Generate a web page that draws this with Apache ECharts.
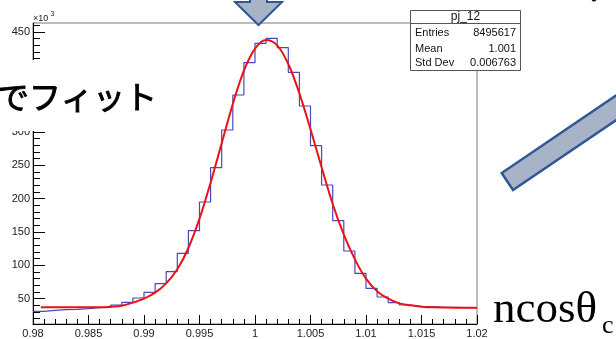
<!DOCTYPE html>
<html>
<head>
<meta charset="utf-8">
<script src="https://cdn.jsdelivr.net/npm/echarts@6/dist/echarts.min.js"></script>
<style>
  html, body { margin: 0; padding: 0; background: #fff; }
  #chart { width: 616px; height: 339px; }
</style>
</head>
<body>
<div id="chart"></div>
<script>
// Histogram pj_12: 40 bins of width 0.001 from 0.98, counts in units of 10^3
const binLow = 0.98;
const binWidth = 0.001;
const counts = [
  31, 32.5, 33.5, 34, 35, 36.5, 37, 40.5, 44.5, 51,
  59.5, 72.5, 90.5, 118, 152, 195, 246.5, 303, 355.5, 404,
  433, 440.5, 426.5, 389.5, 339, 279.5, 220.5, 167, 121.5, 88,
  65.5, 52.5, 44, 40.5, 38.5, 38, 37, 37, 36.5, 36.5
];

// Fitted curve (Gaussian on a flat background), sampled values
const fitX = [0.9807, 0.982, 0.984, 0.986, 0.987, 0.988, 0.989, 0.990, 0.991, 0.992,
              0.993, 0.994, 0.995, 0.996, 0.997, 0.998, 0.999, 1.000, 1.001, 1.002,
              1.003, 1.004, 1.005, 1.006, 1.007, 1.008, 1.009, 1.010, 1.011, 1.012,
              1.013, 1.014, 1.015, 1.016, 1.018, 1.020];
const fitY = [37, 37, 37, 37, 38, 39.5, 44, 50, 59, 73,
              94, 126, 170, 224, 283, 342, 392, 425, 438, 430,
              402, 358, 304, 247, 192, 146, 109, 80, 61, 50,
              43, 40, 38, 37, 36.5, 36.5];

// Axis ticks
const yMajor = [50, 100, 150, 200, 250, 300, 350, 400, 450];
const yMinor = [];
for (let v = 20; v <= 460; v += 10) yMinor.push(v);

// Statistics box
const statTitle = 'pj_12';
const statNames = ['Entries', 'Mean', 'Std Dev'];
const statValues = ['8495617', '1.001', '0.006763'];

const histData = counts.map((v, i) => [+(binLow + i * binWidth).toFixed(4), v]);
histData.push([+(binLow + counts.length * binWidth).toFixed(4), counts[counts.length - 1]]);
const fitData = fitX.map((x, i) => [x, fitY[i]]);

const sans = '"Liberation Sans", Arial, sans-serif';
const serif = '"Liberation Serif", "Times New Roman", serif';
const arrowFill = '#a7b3c7';
const arrowStroke = '#2f5896';

const statGraphics = [
  { type: 'rect', shape: { x: 410.5, y: 10.5, width: 110, height: 60 },
    style: { fill: '#fff', stroke: '#555', lineWidth: 1 } },
  { type: 'line', shape: { x1: 410.5, y1: 23.5, x2: 520.5, y2: 23.5 },
    style: { stroke: '#555', lineWidth: 1 } },
  { type: 'text', x: 465.5, y: 17,
    style: { text: statTitle, font: '12px ' + sans, fill: '#111', align: 'center', verticalAlign: 'middle' } }
];
const rowY = [33, 48.5, 63];
statNames.forEach((n, i) => {
  statGraphics.push({ type: 'text', x: 415, y: rowY[i],
    style: { text: n, font: '11px ' + sans, fill: '#111', align: 'left', verticalAlign: 'middle' } });
  statGraphics.push({ type: 'text', x: 516, y: rowY[i],
    style: { text: statValues[i], font: '11px ' + sans, fill: '#111', align: 'right', verticalAlign: 'middle' } });
});

const chart = echarts.init(document.getElementById('chart'), null, { renderer: 'canvas' });
chart.setOption({
  animation: false,
  backgroundColor: '#fff',
  grid: {
    left: 33, right: 139, top: 23, bottom: 15,
    show: true, borderColor: '#7a7a7a', borderWidth: 1,
    containLabel: false, outerBoundsMode: 'none'
  },
  xAxis: {
    type: 'value', min: 0.98, max: 1.02, interval: 0.005,
    axisLine: { show: true, lineStyle: { color: '#000', width: 1 } },
    axisTick: { show: true, inside: true, length: 9, lineStyle: { color: '#000' } },
    minorTick: { show: true, splitNumber: 5, length: 5, lineStyle: { color: '#000' } },
    splitLine: { show: false },
    axisLabel: { margin: 4, color: '#222', fontFamily: sans, fontSize: 11,
                 showMinLabel: true, showMaxLabel: true }
  },
  yAxis: [
    {
      type: 'value', min: 12, max: 463.5, position: 'left',
      axisLine: { show: true, lineStyle: { color: '#000', width: 1 } },
      axisTick: { show: true, inside: true, length: 12, customValues: yMajor, lineStyle: { color: '#000' } },
      axisLabel: { show: true, customValues: yMajor, margin: 3, color: '#222', fontFamily: sans, fontSize: 11 },
      splitLine: { show: false }
    },
    {
      type: 'value', min: 12, max: 463.5, position: 'left',
      axisLine: { show: false },
      axisTick: { show: true, inside: true, length: 7, customValues: yMinor, lineStyle: { color: '#000' } },
      axisLabel: { show: false },
      splitLine: { show: false }
    }
  ],
  series: [
    {
      type: 'line', name: 'pj_12', data: histData, step: 'end',
      showSymbol: false, silent: true,
      lineStyle: { color: '#4848c0', width: 1.2 }
    },
    {
      type: 'line', name: 'fit', data: fitData, smooth: 0.35,
      showSymbol: false, silent: true,
      lineStyle: { color: '#ee1111', width: 2 }, z: 3
    }
  ],
  graphic: [
    // axis multiplier
    { type: 'text', x: 33, y: 19, z: 100,
      style: { text: '×10', font: '9px ' + sans, fill: '#222', verticalAlign: 'middle' } },
    { type: 'text', x: 50.5, y: 14, z: 100,
      style: { text: '3', font: '7px ' + sans, fill: '#222', verticalAlign: 'middle' } },
    // caption panel on the left
    { type: 'rect', z: 100, shape: { x: 0, y: 60, width: 156, height: 71 },
      style: { fill: '#fff' } },
    { type: 'text', x: -3, y: 97, z: 101,
      style: { text: 'でフィット', font: '32px "Noto Sans CJK JP", sans-serif', fill: '#000',
               stroke: '#000', lineWidth: 0.9, verticalAlign: 'middle' } },
    // stats box
    { type: 'group', z: 100, children: statGraphics },
    // pointer arrow at the peak
    { type: 'polygon', z: 100,
      shape: { points: [[250, -10], [267, -10], [267, 2], [282, 2], [258.5, 25], [235, 2], [250, 2]] },
      style: { fill: arrowFill, stroke: arrowStroke, lineWidth: 2 } },
    // diagonal pointer on the right
    { type: 'polygon', z: 100,
      shape: { points: [[501.7, 173], [513, 190], [640, 104], [628.7, 87]] },
      style: { fill: arrowFill, stroke: arrowStroke, lineWidth: 2.5 } },
    { type: 'circle', z: 100, shape: { cx: 594, cy: -1, r: 2.5 }, style: { fill: '#111' } },
    // variable name
    { type: 'text', x: 493, y: 310, z: 100,
      style: { text: 'ncosθ', font: '45px ' + serif, fill: '#000', verticalAlign: 'middle' } },
    { type: 'text', x: 602, y: 326, z: 100,
      style: { text: 'c', font: '26px ' + serif, fill: '#000', verticalAlign: 'middle' } }
  ]
});
</script>
</body>
</html>
